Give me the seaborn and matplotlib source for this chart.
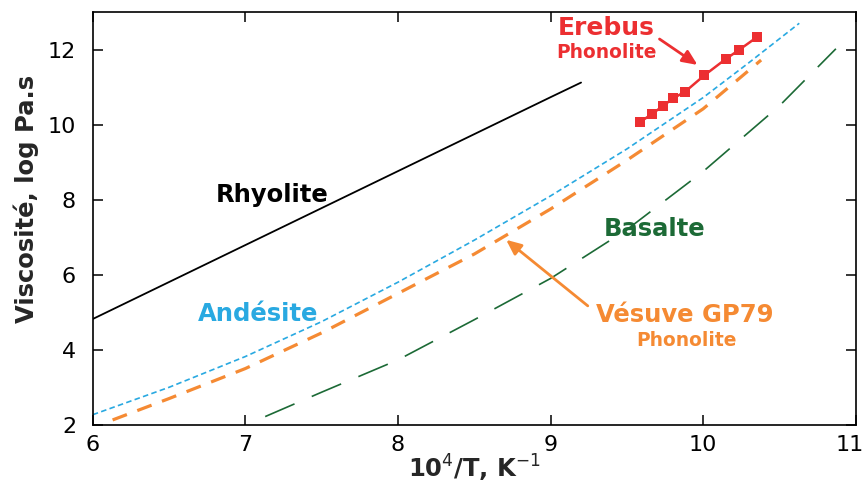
import matplotlib
matplotlib.use("Agg")
import matplotlib.pyplot as plt
import matplotlib.transforms as mtransforms
import seaborn as sns

# ---- data ----
rhy_x = [6.0, 7.0, 8.0, 9.0, 9.2]
rhy_y = [4.82, 6.79, 8.76, 10.73, 11.12]

and_x = [6.0, 6.5, 7.0, 7.5, 8.0, 8.5, 9.0, 9.5, 10.0, 10.3, 10.63]
and_y = [2.27, 3.0, 3.82, 4.75, 5.8, 6.92, 8.1, 9.35, 10.72, 11.65, 12.7]

ves_x = [6.13, 6.5, 7.0, 7.5, 8.0, 8.5, 9.0, 9.5, 10.0, 10.38]
ves_y = [2.13, 2.7, 3.5, 4.45, 5.5, 6.55, 7.75, 9.05, 10.42, 11.72]

bas_x = [7.13, 7.5, 8.0, 8.5, 9.0, 9.5, 10.0, 10.5, 10.87]
bas_y = [2.22, 2.87, 3.73, 4.8, 5.9, 7.2, 8.75, 10.5, 12.02]

ere_x = [9.583, 9.664, 9.734, 9.804, 9.883, 10.007, 10.149, 10.232, 10.356]
ere_y = [10.06, 10.28, 10.49, 10.70, 10.88, 11.31, 11.75, 11.98, 12.34]

x_ticks = [6, 7, 8, 9, 10, 11]
y_ticks = [2, 4, 6, 8, 10, 12]

# ---- style ----
sns.set_style("ticks")
plt.rcParams["font.family"] = ["DejaVu Sans"]
plt.rcParams["lines.scale_dashes"] = False

C_BLACK = "#000000"
C_BLUE = "#29a9e1"
C_ORANGE = "#f58a33"
C_GREEN = "#1c6a36"
C_RED = "#ec2f31"

fig = plt.figure(figsize=(8.67, 4.90), dpi=100)
ax = fig.add_axes([0.107, 0.133, 0.880, 0.8425])

sns.lineplot(x=rhy_x, y=rhy_y, ax=ax, color=C_BLACK, lw=1.3)
sns.lineplot(x=and_x, y=and_y, ax=ax, color=C_BLUE, lw=1.2)
ax.lines[-1].set_dashes((4.0, 2.4))
sns.lineplot(x=ves_x, y=ves_y, ax=ax, color=C_ORANGE, lw=2.3)
ax.lines[-1].set_dashes((11.0, 8.0))
sns.lineplot(x=bas_x, y=bas_y, ax=ax, color=C_GREEN, lw=1.2)
ax.lines[-1].set_dashes((23.0, 13.5))
sns.lineplot(x=ere_x, y=ere_y, ax=ax, color=C_RED, lw=1.8, marker="s",
             markersize=7.5, markeredgecolor=C_RED, markeredgewidth=0)

ax.set_xlim(6, 11)
ax.set_ylim(2, 13.0)
ax.set_xticks(x_ticks)
ax.set_yticks(y_ticks)
ax.tick_params(direction="in", length=7, width=1.1, top=True, right=True,
               labelsize=16, colors="black")
ax.tick_params(axis="y", pad=12)
ax.tick_params(axis="x", pad=7)
for s in ax.spines.values():
    s.set_visible(True)
    s.set_linewidth(1.2)
    s.set_color("black")

# keep the last x tick label inside the figure edge
last_lbl = ax.get_xticklabels()[-1]
last_lbl.set_transform(last_lbl.get_transform() +
                       mtransforms.ScaledTranslation(-6 / 100, 0, fig.dpi_scale_trans))

ax.set_ylabel("Viscosité, log Pa.s", fontsize=17.5, fontweight="bold")
ax.yaxis.set_label_coords(-0.071, 0.548)
ax.set_xlabel(r"10$^4$/T, K$^{-1}$", fontsize=17.5, fontweight="bold", labelpad=-1)

# ---- annotations ----
ax.text(7.177, 7.93, "Rhyolite", color=C_BLACK, fontsize=17.5, fontweight="bold",
        ha="center", va="baseline")
ax.text(7.08, 4.76, "Andésite", color=C_BLUE, fontsize=17.5, fontweight="bold",
        ha="center", va="baseline")
ax.text(9.683, 7.04, "Basalte", color=C_GREEN, fontsize=17.5, fontweight="bold",
        ha="center", va="baseline")
ax.text(9.881, 4.73, "Vésuve GP79", color=C_ORANGE, fontsize=17.5, fontweight="bold",
        ha="center", va="baseline")
ax.text(9.89, 4.11, "Phonolite", color=C_ORANGE, fontsize=13.4, fontweight="bold",
        ha="center", va="baseline")
ax.text(9.363, 12.4, "Erebus", color=C_RED, fontsize=18, fontweight="bold",
        ha="center", va="baseline")
ax.text(9.366, 11.78, "Phonolite", color=C_RED, fontsize=13.4, fontweight="bold",
        ha="center", va="baseline")

ax.annotate("", xy=(9.963, 11.59), xytext=(9.714, 12.28),
            arrowprops=dict(arrowstyle="-|>,head_length=0.9,head_width=0.4",
                            color=C_RED, lw=2.0, shrinkA=0, shrinkB=0))
ax.annotate("", xy=(8.709, 6.93), xytext=(9.244, 5.17),
            arrowprops=dict(arrowstyle="-|>,head_length=0.9,head_width=0.4",
                            color=C_ORANGE, lw=2.0, shrinkA=0, shrinkB=0))

fig.savefig("out.png", dpi=100)
